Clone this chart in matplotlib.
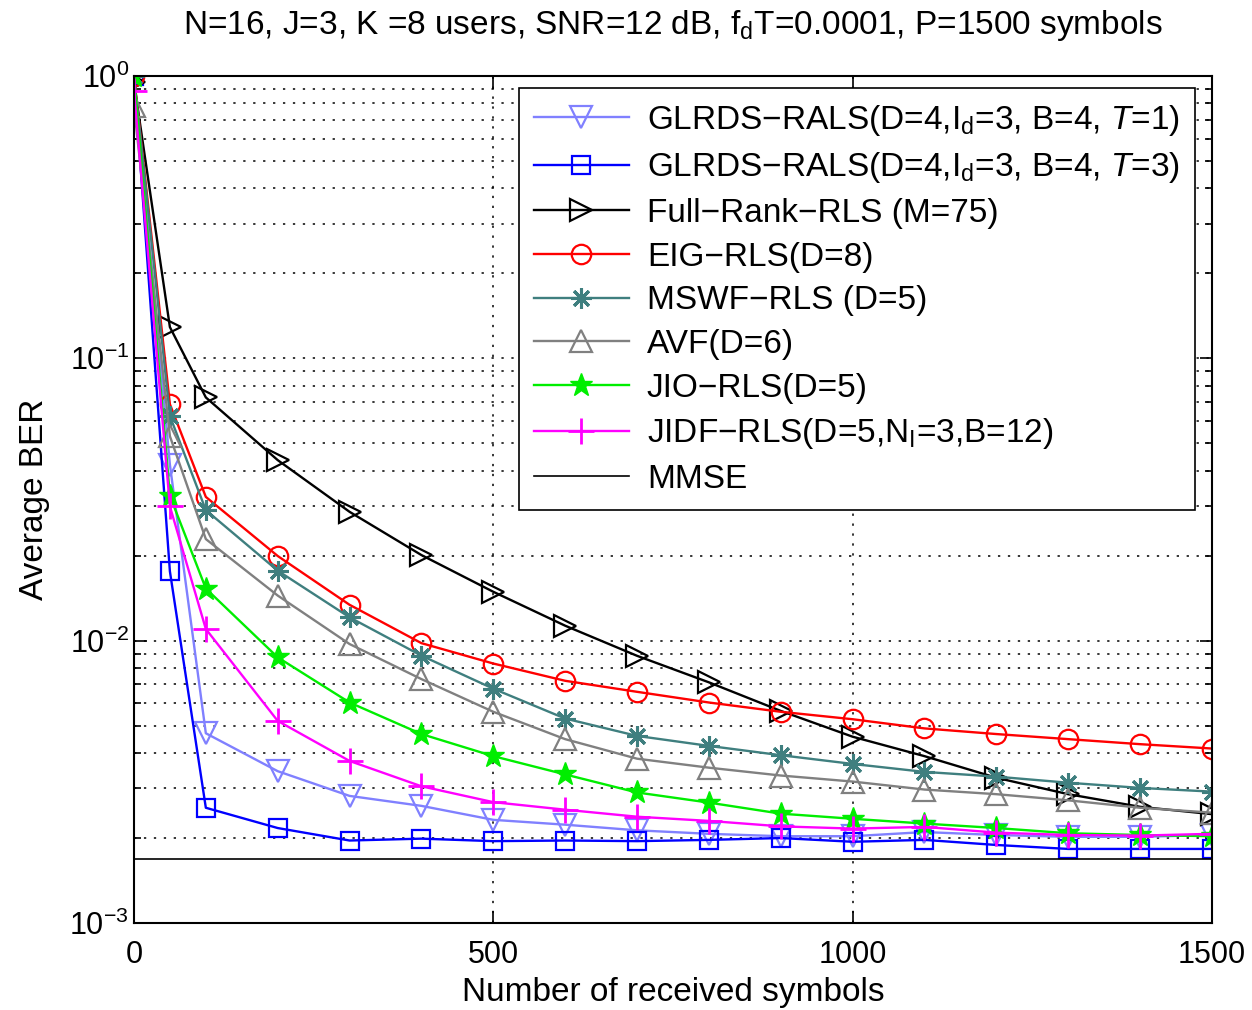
import numpy as np
import matplotlib
matplotlib.use("Agg")
import matplotlib.pyplot as plt
from matplotlib.ticker import LogLocator, NullFormatter, FixedLocator

plt.rcParams['font.family'] = ['Liberation Sans', 'DejaVu Sans']
plt.rcParams['mathtext.fontset'] = 'custom'
plt.rcParams['mathtext.rm'] = 'Liberation Sans'
plt.rcParams['mathtext.it'] = 'Liberation Sans:italic'
plt.rcParams['mathtext.default'] = 'regular'

# number of received symbols
symbols = [0, 50, 100, 200, 300, 400, 500, 600, 700, 800, 900, 1000, 1100, 1200, 1300, 1400, 1500]

glrds_t1 = [1.0, 0.042, 0.0047, 0.00345, 0.00282, 0.0026, 0.00232, 0.00223, 0.00213, 0.00207,
            0.00203, 0.00203, 0.0021, 0.00205, 0.00202, 0.00202, 0.00205]
glrds_t3 = [1.0, 0.0176, 0.00256, 0.00217, 0.00196, 0.00199, 0.00195, 0.00196, 0.00195, 0.00197,
            0.002, 0.00194, 0.00197, 0.00189, 0.00183, 0.00183, 0.00183]
full_rank = [0.95, 0.129, 0.0727, 0.0436, 0.0286, 0.0201, 0.0149, 0.0113, 0.00884, 0.00712,
             0.00564, 0.00457, 0.0039, 0.00327, 0.00286, 0.00258, 0.00243]
eig_rls = [1.0, 0.0688, 0.0323, 0.01995, 0.0134, 0.0098, 0.0083, 0.00721, 0.00659, 0.00604,
           0.0056, 0.00527, 0.00489, 0.00467, 0.00448, 0.0043, 0.00415]
mswf_rls = [1.0, 0.0625, 0.029, 0.0177, 0.0121, 0.00885, 0.00676, 0.0053, 0.0046, 0.00424,
            0.00393, 0.00366, 0.00343, 0.0033, 0.00314, 0.00301, 0.00292]
avf = [0.78, 0.053, 0.0229, 0.01445, 0.00973, 0.00731, 0.0056, 0.00448, 0.00382, 0.00355,
       0.00333, 0.00317, 0.00297, 0.00286, 0.00272, 0.00256, 0.00246]
jio_rls = [1.0, 0.0326, 0.0153, 0.00873, 0.00604, 0.00467, 0.0039, 0.00336, 0.0029, 0.00267,
           0.00244, 0.00234, 0.00225, 0.00217, 0.00208, 0.00205, 0.00203]
jidf_rls = [0.887, 0.0299, 0.011, 0.0052, 0.00375, 0.00305, 0.00268, 0.00252, 0.00238, 0.0023,
            0.0022, 0.00216, 0.00219, 0.00209, 0.00205, 0.00204, 0.00207]
mmse = [0.00169] * len(symbols)

labels = [
    "GLRDS\u2212RALS(D=4,I$_d$=3, B=4, $\\it{T}$=1)",
    "GLRDS\u2212RALS(D=4,I$_d$=3, B=4, $\\it{T}$=3)",
    "Full\u2212Rank\u2212RLS (M=75)",
    "EIG\u2212RLS(D=8)",
    "MSWF\u2212RLS (D=5)",
    "AVF(D=6)",
    "JIO\u2212RLS(D=5)",
    "JIDF\u2212RLS(D=5,N$_I$=3,B=12)",
    "MMSE",
]

fig = plt.figure(figsize=(12.52, 10.10), dpi=100)
ax = fig.add_axes([0.107, 0.0861, 0.861, 0.8387])

ms = 16
lw = 1.7
mew = 1.6
ax.plot(symbols, glrds_t1, color='#8080ff', marker='v', ms=ms, mfc='none', mew=mew, lw=lw, label=labels[0])
ax.plot(symbols, glrds_t3, color='#0000ff', marker='s', ms=ms - 3, mfc='none', mew=mew, lw=lw, label=labels[1])
ax.plot(symbols, full_rank, color='k', marker='>', ms=ms, mfc='none', mew=mew, lw=lw, label=labels[2])
ax.plot(symbols, eig_rls, color='#ff0000', marker='o', ms=ms - 2, mfc='none', mew=mew, lw=lw, label=labels[3])
ax.plot(symbols, mswf_rls, color='#3f7f7f', marker=(8, 2, 0), ms=ms - 1, mew=2.2, lw=lw, label=labels[4])
ax.plot(symbols, avf, color='#808080', marker='^', ms=ms, mfc='none', mew=mew, lw=lw, label=labels[5])
ax.plot(symbols, jio_rls, color='#00ee00', marker='*', ms=ms + 1, mew=1, lw=lw, label=labels[6])
ax.plot(symbols, jidf_rls, color='#ff00ff', marker='+', ms=ms + 3, mew=2, lw=lw, label=labels[7])
ax.plot(symbols, mmse, color='k', lw=1.2, label=labels[8])

ax.set_yscale('log')
ax.set_xlim(0, 1500)
ax.set_ylim(1e-3, 1)
ax.xaxis.set_major_locator(FixedLocator([0, 500, 1000, 1500]))
ax.yaxis.set_major_locator(LogLocator(base=10, numticks=10))
ax.yaxis.set_minor_locator(LogLocator(base=10, subs=np.arange(2, 10), numticks=20))
ax.yaxis.set_minor_formatter(NullFormatter())

ax.grid(True, which='major', axis='both', color='k', linestyle=(0, (1.5, 5)), linewidth=1.1)
ax.grid(True, which='minor', axis='y', color='k', linestyle=(0, (1.5, 5)), linewidth=1.1)

ax.tick_params(which='both', direction='in', top=True, right=True, labelsize=22, width=1.2)
ax.tick_params(which='major', length=9)
ax.tick_params(which='minor', length=5)
ax.tick_params(axis='x', pad=12)
for s in ax.spines.values():
    s.set_linewidth(1.5)

ax.set_xlabel("Number of received symbols", fontsize=24, labelpad=5)
ax.set_ylabel("Average BER", fontsize=24, labelpad=14)
ax.set_title("N=16, J=3, K =8 users, SNR=12 dB, f$_d$T=0.0001, P=1500 symbols", fontsize=24, pad=30)

leg = ax.legend(loc='upper right', bbox_to_anchor=(0.984, 0.986), borderaxespad=0, fontsize=24,
                handlelength=2.85, handletextpad=0.55, labelspacing=0.38, borderpad=0.45,
                fancybox=False, framealpha=1, edgecolor='k')
leg.get_frame().set_linewidth(1.2)

fig.savefig("out.png", dpi=100)
